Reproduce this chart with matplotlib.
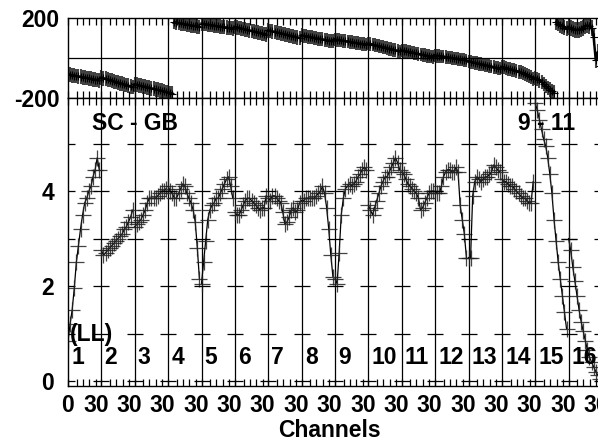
import numpy as np
import matplotlib.pyplot as plt

plt.rcParams['font.family'] = ['Liberation Sans', 'DejaVu Sans']
plt.rcParams['font.weight'] = 'bold'
plt.rcParams['font.size'] = 16.5

# channels plotted in every IF (every other channel)
channels = [0, 2, 4, 6, 8, 10, 12, 14, 16, 18, 20, 22, 24, 26, 28, 30]
if_labels = ['1', '2', '3', '4', '5', '6', '7', '8',
             '9', '10', '11', '12', '13', '14', '15', '16']

# amplitude per IF (Jy)
amplitude = [
    [0.85, 1.2, 1.5, 1.95, 2.5, 2.85, 3.2, 3.5, 3.75, 3.85, 4.0, 4.1, 4.3, 4.45, 4.7, 4.45],
    [2.75, 2.65, 2.7, 2.75, 2.8, 2.85, 2.9, 2.95, 3.0, 3.05, 3.1, 3.2, 3.25, 3.35, 3.45, 3.6],
    [3.25, 3.3, 3.35, 3.4, 3.5, 3.6, 3.75, 3.85, 3.85, 3.85, 3.85, 3.9, 3.95, 4.0, 4.0, 4.05],
    [4.1, 4.0, 3.95, 3.85, 3.85, 3.95, 4.05, 4.15, 4.1, 3.95, 3.85, 3.75, 3.6, 3.35, 2.8, 2.15],
    [2.05, 2.5, 2.95, 3.4, 3.6, 3.7, 3.75, 3.85, 3.85, 3.95, 4.05, 4.15, 4.25, 4.3, 4.1, 3.85],
    [3.55, 3.5, 3.5, 3.6, 3.7, 3.8, 3.85, 3.85, 3.8, 3.75, 3.7, 3.65, 3.6, 3.65, 3.65, 3.9],
    [3.85, 3.8, 3.9, 3.9, 3.85, 3.8, 3.75, 3.55, 3.3, 3.35, 3.45, 3.6, 3.65, 3.55, 3.6, 3.75],
    [3.8, 3.8, 3.85, 3.85, 3.85, 3.85, 3.85, 3.9, 3.95, 4.0, 4.1, 3.95, 3.65, 3.2, 2.65, 2.2],
    [2.15, 2.05, 2.7, 3.5, 3.85, 4.05, 4.1, 4.15, 4.1, 4.15, 4.2, 4.3, 4.35, 4.45, 4.5, 4.45],
    [3.7, 3.6, 3.5, 3.65, 3.8, 3.95, 4.1, 4.2, 4.3, 4.3, 4.4, 4.5, 4.6, 4.7, 4.6, 4.45],
    [4.4, 4.35, 4.25, 4.15, 4.1, 4.05, 4.0, 3.95, 3.85, 3.6, 3.65, 3.75, 3.85, 3.95, 4.0, 4.0],
    [4.0, 3.95, 3.95, 4.1, 4.3, 4.4, 4.45, 4.45, 4.4, 4.4, 4.5, 4.4, 3.7, 3.4, 3.1, 2.6],
    [2.6, 2.6, 3.9, 4.2, 4.3, 4.25, 4.2, 4.25, 4.3, 4.3, 4.35, 4.4, 4.55, 4.5, 4.45, 4.4],
    [4.25, 4.2, 4.2, 4.15, 4.1, 4.1, 4.05, 4.0, 3.95, 3.9, 3.85, 3.85, 3.8, 3.75, 3.75, 4.2],
    [5.85, 5.7, 5.5, 5.3, 5.1, 4.95, 4.7, 4.35, 3.95, 3.4, 2.95, 2.5, 2.15, 1.8, 1.45, 1.1],
    [3.0, 2.75, 2.4, 2.1, 1.8, 1.5, 1.25, 1.05, 0.85, 0.65, 0.5, 0.4, 0.3, 0.2, 0.12, 0.05],
]

# phase per IF (degrees)
phase = [
    [-82, -84, -86, -88, -90, -92, -94, -96, -98, -100, -102, -104, -106, -108, -110, -112],
    [-98, -101, -104, -107, -110, -113, -116, -120, -123, -126, -129, -132, -135, -139, -142, -145],
    [-132, -134, -137, -139, -142, -144, -147, -149, -152, -154, -157, -159, -162, -164, -167, -170],
    [-172, -175, -178, 179, 177, 175, 173, 171, 169, 167, 165, 163, 161, 160, 158, 156],
    [172, 170, 169, 167, 165, 164, 162, 160, 159, 157, 155, 154, 152, 150, 149, 147],
    [155, 153, 150, 148, 145, 143, 140, 138, 135, 133, 130, 128, 125, 123, 120, 117],
    [138, 136, 133, 131, 128, 126, 123, 121, 118, 116, 113, 111, 108, 106, 103, 100],
    [113, 111, 109, 107, 105, 103, 101, 99, 97, 95, 93, 91, 89, 87, 85, 83],
    [93, 91, 90, 88, 86, 84, 83, 81, 79, 77, 76, 74, 72, 70, 69, 67],
    [72, 70, 67, 64, 62, 59, 57, 54, 52, 49, 46, 44, 41, 39, 36, 33],
    [38, 36, 34, 32, 29, 27, 25, 23, 20, 18, 16, 14, 11, 9, 7, 5],
    [13, 11, 10, 8, 7, 5, 3, 2, 0, -2, -3, -5, -7, -8, -10, -12],
    [-17, -19, -22, -24, -26, -29, -31, -33, -36, -38, -40, -43, -45, -48, -50, -53],
    [-45, -47, -50, -53, -56, -59, -62, -65, -68, -72, -76, -80, -85, -90, -96, -103],
    [-100, -105, -112, -120, -130, -140, -150, -158, -165, -174, 178, 170, 164, 158, 152, 147],
    [155, 150, 146, 142, 140, 142, 146, 152, 160, 163, 158, 150, 105, -10, 30, -40],
]
# phase uncertainty per IF (degrees)
phase_err = [37, 37, 37, 36, 36, 36, 36, 35, 34, 34, 34, 34, 34, 35, 37, 40]

nchan = 32          # width of one IF on the channel axis
n_if = len(if_labels)
xmax = n_if * nchan

fig = plt.figure(figsize=(5.98, 4.40), dpi=100)
W, H = 598.0, 440.0
ax_ph = fig.add_axes([68 / W, 1 - 98 / H, 534 / W, 80 / H])
ax_amp = fig.add_axes([68 / W, 1 - 386 / H, 534 / W, 288 / H])

bounds = np.arange(0, xmax + 1, nchan)
lab_pos = [0] + [k * nchan + 26.6 for k in range(n_if)]
lab_txt = ['0'] + ['30'] * n_if
minor_pos = [k * nchan + o for k in range(n_if) for o in (8.3, 14.1, 20.4)] + list(bounds)

for ax in (ax_ph, ax_amp):
    ax.set_xlim(0, xmax)
    for b in bounds[1:]:
        ax.axvline(b, color='black', lw=0.9)
    ax.set_xticks(lab_pos)
    ax.set_xticks(minor_pos, minor=True)
    ax.tick_params(axis='x', which='both', direction='in', top=True, bottom=True,
                   length=5, width=0.9)
    for s in ax.spines.values():
        s.set_linewidth(1.0)

# ---- phase panel ----
for k in range(n_if):
    x = k * nchan + np.array(channels)
    p = np.array(phase[k], dtype=float)
    ax_ph.errorbar(x, p, yerr=phase_err[k], fmt='none', ecolor='#151515',
                   elinewidth=1.5, capsize=0, alpha=0.8)
    ax_ph.plot(x, p, '+', color='black', ms=6, mew=0.8)
    # break the line where the phase wraps
    cut = np.where(np.abs(np.diff(p)) > 180)[0] + 1
    for xs, ps in zip(np.split(x, cut), np.split(p, cut)):
        ax_ph.plot(xs, ps, color='black', lw=1.8)
ax_ph.axhline(0, color='black', lw=0.9)
ax_ph.set_ylim(-200, 200)
ax_ph.set_yticks([-200, 200])
ax_ph.set_yticklabels(['-200', '200'], fontweight='bold')
ax_ph.tick_params(axis='y', length=0, pad=6)
ax_ph.tick_params(axis='x', labelbottom=False)

# ---- amplitude panel ----
for k in range(n_if):
    x = k * nchan + np.array(channels)
    a = amplitude[k]
    ax_amp.plot(x, a, color='black', lw=0.9)
    ax_amp.plot(x, a, '+', color='#222222', ms=11, mew=0.9, alpha=0.85)

for lev in range(0, 6):
    ax_amp.plot(bounds[1:], [lev] * len(bounds[1:]), '_', color='black', ms=12, mew=0.9)

ax_amp.set_ylim(-0.105, 5.96)
ax_amp.set_yticks([0, 2, 4])
ax_amp.set_yticks([1, 3, 5], minor=True)
ax_amp.tick_params(axis='y', which='both', direction='in', length=5, width=0.9, pad=10)
ax_amp.set_xticklabels(lab_txt, fontweight='bold')
ax_amp.tick_params(axis='x', which='major', pad=6)
for t in ax_amp.get_yticklabels():
    t.set_fontweight('bold')

for k in range(n_if):
    ax_amp.text(k * nchan + 3, 0.5, if_labels[k], ha='left', va='center',
                fontweight='bold')

ax_amp.text(2, 0.98, '(LL)', ha='left', va='center', fontweight='bold')
fig.text(92 / W, 1 - 123 / H, 'SC - GB', ha='left', va='center', fontweight='bold')
fig.text(518 / W, 1 - 123 / H, '9 - 11', ha='left', va='center', fontweight='bold')
fig.text(329 / W, 1 - 430 / H, 'Channels', ha='center', va='center', fontweight='bold')

fig.savefig('out.png', dpi=100)
